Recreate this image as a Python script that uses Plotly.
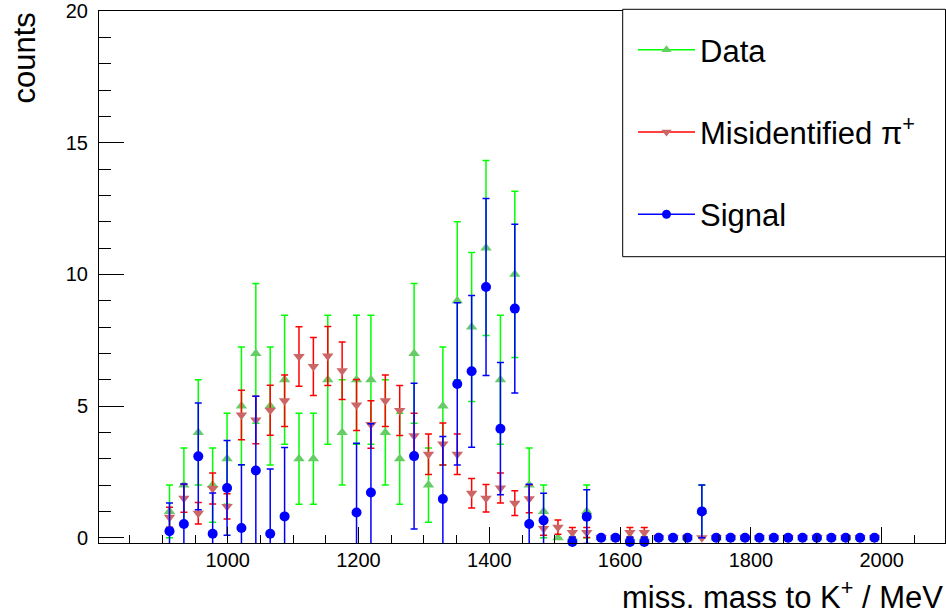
import plotly.graph_objects as go

# ---------------- data ----------------
mass = [911, 933, 955, 977, 999, 1021, 1043, 1065, 1087, 1109,
        1131, 1153, 1175, 1197, 1219, 1241, 1263, 1285, 1307, 1329,
        1351, 1373, 1395, 1417, 1439, 1461, 1483, 1505, 1527, 1549,
        1571, 1593, 1615, 1637, 1659, 1681, 1703, 1725, 1747, 1769,
        1791, 1813, 1835, 1857, 1879, 1901, 1923, 1945, 1967, 1989]

data_counts = [1, 2, 4, 2, 3, 5, 7, 5, 6, 3,
               3, 6, 4, 6, 6, 4, 3, 7, 2, 5,
               9, 8, 11, 6, 10, 2, 1, 0, 0, 1,
               0, 0, 0, 0, 0, 0, 0, 1, 0, 0,
               0, 0, 0, 0, 0, 0, 0, 0, 0, 0]
data_err = [1.0, 1.41, 2.0, 1.41, 1.73, 2.24, 2.65, 2.24, 2.45, 1.73,
            1.73, 2.45, 2.0, 2.45, 2.45, 2.0, 1.73, 2.65, 1.41, 2.24,
            3.0, 2.83, 3.32, 2.45, 3.16, 1.41, 1.0, 0, 0, 1.0,
            0, 0, 0, 0, 0, 0, 0, 1.0, 0, 0,
            0, 0, 0, 0, 0, 0, 0, 0, 0, 0]

misid = [0.78, 1.5, 0.93, 1.87, 1.19, 4.66, 4.47, 4.84, 5.2, 6.88,
         6.5, 6.9, 6.34, 5.04, 4.3, 5.2, 4.83, 3.87, 3.17, 3.56,
         3.17, 1.69, 1.5, 1.89, 1.31, 1.48, 0.35, 0.4, 0.2, 0.2,
         0, 0, 0.2, 0.2, 0, 0, 0, 0, 0, 0,
         0, 0, 0, 0, 0, 0, 0, 0, 0, 0]
misid_err = [0.38, 0.53, 0.41, 0.59, 0.48, 0.94, 0.9, 0.95, 0.98, 1.13,
             1.1, 1.12, 1.09, 0.97, 0.9, 0.98, 0.95, 0.86, 0.77, 0.8,
             0.77, 0.56, 0.52, 0.57, 0.47, 0.53, 0.26, 0.27, 0.19, 0.19,
             0, 0, 0.19, 0.19, 0, 0, 0, 0, 0, 0,
             0, 0, 0, 0, 0, 0, 0, 0, 0, 0]

signal = [0.25, 0.52, 3.09, 0.15, 1.89, 0.37, 2.55, 0.15, 0.81, -3.88,
          -3.5, -0.9, -2.34, 0.96, 1.72, -1.2, -1.83, 3.1, -1.17, 1.47,
          5.84, 6.32, 9.52, 4.14, 8.7, 0.52, 0.66, -0.4, -0.16, 0.8,
          0, 0, -0.16, -0.16, 0, 0, 0, 1.0, 0, 0,
          0, 0, 0, 0, 0, 0, 0, 0, 0, 0]
signal_err = [1.07, 1.52, 2.03, 1.55, 1.8, 2.4, 2.82, 2.46, 2.62, 2.07,
              2.0, 2.69, 2.28, 2.63, 2.61, 2.23, 1.97, 2.77, 1.61, 2.37,
              3.08, 2.88, 3.36, 2.51, 3.2, 1.51, 1.03, 0.27, 0.19, 1.02,
              0, 0, 0.19, 0.19, 0, 0, 0, 1.0, 0, 0,
              0, 0, 0, 0, 0, 0, 0, 0, 0, 0]

series_names = ["Data", "Misidentified π<sup>+</sup>", "Signal"]
x_title = "miss. mass to K<sup>+</sup> / MeV"
y_title = "counts"

# ---------------- styling ----------------
X_RANGE = [803.2, 2096.8]
Y_RANGE = [-0.2, 20]
FONT = "Liberation Sans, Arial, Helvetica, sans-serif"
BIG = 31

styles = [
    dict(bar="#00ff00", marker="#66cc66", symbol="triangle-up", size=10),
    dict(bar="#ff0000", marker="#cc6666", symbol="triangle-down", size=10),
    dict(bar="#0000ff", marker="#0000ff", symbol="circle", size=10),
]


def in_frame(vals, errs):
    """Like ROOT: points outside the frame are not drawn at all."""
    ys, es = [], []
    for v, e in zip(vals, errs):
        if Y_RANGE[0] <= v <= Y_RANGE[1]:
            ys.append(v)
            es.append(e)
        else:
            ys.append(None)
            es.append(None)
    return ys, es


fig = go.Figure()
for (vals, errs), st in zip([(data_counts, data_err), (misid, misid_err), (signal, signal_err)], styles):
    ys, es = in_frame(vals, errs)
    fig.add_trace(go.Scatter(
        x=mass, y=ys, mode="markers", showlegend=False, cliponaxis=False,
        marker=dict(symbol=st["symbol"], size=st["size"], color=st["marker"], line=dict(width=0)),
        error_y=dict(type="data", array=es, visible=True, color=st["bar"], thickness=1.5, width=3.5),
        hoverinfo="x+y",
    ))

# legend entries (line + marker, as in the ROOT legend)
for i, (name, st) in enumerate(zip(series_names, styles)):
    fig.add_trace(go.Scatter(
        x=[None], y=[None], mode="lines+markers", name=name, legendgroup=f"g{i}",
        line=dict(color=st["bar"], width=1.5),
        marker=dict(symbol=st["symbol"], size=9, color=st["marker"]),
    ))

L, R, T, B = 99, 1, 11, 72
W, H = 946, 615
PW, PH = W - L - R, H - T - B


def px_x(px):
    return (px - L) / PW


def px_y(py):
    return (H - B - py) / PH


axis_common = dict(
    showline=True, linecolor="black", linewidth=1, mirror=True,
    showgrid=False, zeroline=False, ticks="inside", tickcolor="black",
    tickfont=dict(family=FONT, size=20, color="black"),
)

fig.update_layout(
    width=W, height=H,
    margin=dict(l=L, r=R, t=T, b=B),
    paper_bgcolor="white", plot_bgcolor="white",
    font=dict(family=FONT, color="black"),
    xaxis=dict(range=X_RANGE, dtick=200, tick0=0, ticklen=16, tickwidth=1,
               minor=dict(dtick=50, ticklen=8, ticks="inside", tickcolor="black", tickwidth=1),
               ticklabelstandoff=-1, **axis_common),
    yaxis=dict(range=Y_RANGE, dtick=5, tick0=0, ticklen=25, tickwidth=1,
               minor=dict(dtick=1, ticklen=12, ticks="inside", tickcolor="black", tickwidth=1),
               ticklabelstandoff=6, **axis_common),
    showlegend=True,
    legend=dict(
        x=px_x(633), y=px_y(23), xanchor="left", yanchor="top",
        bgcolor="rgba(0,0,0,0)", borderwidth=0,
        font=dict(family=FONT, size=BIG, color="black"),
        tracegroupgap=39, itemwidth=57, traceorder="grouped",
    ),
    shapes=[dict(
        type="rect", xref="paper", yref="paper",
        x0=px_x(622.7), x1=px_x(945.5), y0=px_y(256.7), y1=px_y(9.3),
        line=dict(color="black", width=1), fillcolor="white", layer="above",
    )],
    annotations=[
        dict(text=y_title, xref="paper", yref="paper", x=px_x(24), y=px_y(11),
             xanchor="center", yanchor="top", textangle=-90, showarrow=False,
             font=dict(family=FONT, size=BIG, color="black")),
        dict(text=x_title, xref="paper", yref="paper", x=px_x(945), y=px_y(595),
             xanchor="right", yanchor="middle", showarrow=False,
             font=dict(family=FONT, size=BIG, color="black")),
    ],
)

fig.write_html("out.html")
